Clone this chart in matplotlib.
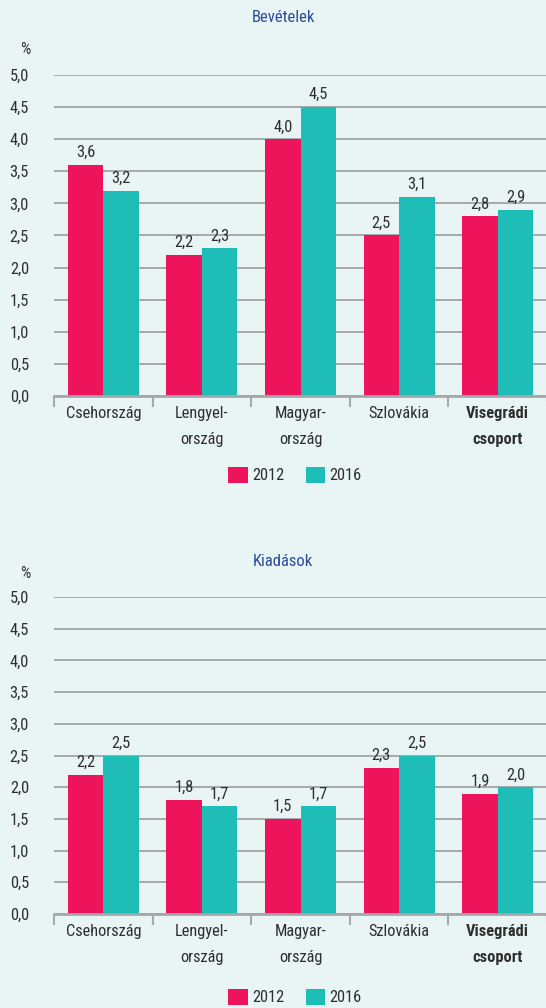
import matplotlib
matplotlib.use("Agg")
import matplotlib.pyplot as plt
from matplotlib import font_manager as fm
from matplotlib.patches import Patch
import numpy as np


def pick_condensed_font():
    """Return (family, stretch) for a narrow sans face, best candidates first."""
    entries = fm.fontManager.ttflist
    by_name = {}
    for f in entries:
        by_name.setdefault(f.name, []).append(f)
    for name in ("Roboto Condensed", "Open Sans Condensed", "Liberation Sans Narrow",
                 "Noto Sans Condensed", "DejaVu Sans Condensed", "Lato Condensed"):
        if name in by_name:
            return name, "normal"
    narrow = {"condensed", "semi-condensed", "extra-condensed"}
    for fam in ("Roboto", "Noto Sans", "Open Sans", "DejaVu Sans", "Liberation Sans", "Inter"):
        for f in by_name.get(fam, []):
            if str(f.stretch) in narrow:
                return fam, str(f.stretch)
    return "Roboto", "normal"


FAMILY, STRETCH = pick_condensed_font()
plt.rcParams['font.family'] = [FAMILY, 'DejaVu Sans']
plt.rcParams['font.stretch'] = STRETCH

categories = ["Csehország", "Lengyel-\nország", "Magyar-\nország", "Szlovákia", "Visegrádi\ncsoport"]
series_names = ["2012", "2016"]
bevetelek_2012 = [3.6, 2.2, 4.0, 2.5, 2.8]
bevetelek_2016 = [3.2, 2.3, 4.5, 3.1, 2.9]
kiadasok_2012 = [2.2, 1.8, 1.5, 2.3, 1.9]
kiadasok_2016 = [2.5, 1.7, 1.7, 2.5, 2.0]
yticks = [0.0, 0.5, 1.0, 1.5, 2.0, 2.5, 3.0, 3.5, 4.0, 4.5, 5.0]

BG = "#e9f5f5"
PINK = "#ed145b"
TEAL = "#1ebdb7"
GRID = "#a6a8aa"
TEXT = "#2e2e2e"
BLUE = "#2b4a9c"
FS = 11.8

W, H = 546, 1008
fig = plt.figure(figsize=(W / 100, H / 100), dpi=100, facecolor=BG)


def px_axes(x0, y_top, x1, y_bot):
    return fig.add_axes([x0 / W, 1 - y_bot / H, (x1 - x0) / W, (y_bot - y_top) / H])


def fmt(v):
    return f"{v:.1f}".replace(".", ",")


def panel(ax, title, v12, v16, title_y, pct_y, legend_y):
    ax.set_facecolor(BG)
    x = np.arange(len(categories))
    bw = 0.36
    b1 = ax.bar(x - bw / 2, v12, bw, color=PINK, zorder=3)
    b2 = ax.bar(x + bw / 2, v16, bw, color=TEAL, zorder=3)
    for bars, vals in ((b1, v12), (b2, v16)):
        for rect, v in zip(bars, vals):
            ax.annotate(fmt(v), (rect.get_x() + rect.get_width() / 2, v),
                        xytext=(0, 3.5), textcoords="offset points",
                        ha="center", va="bottom", fontsize=FS, color=TEXT)
    ax.set_xlim(-0.5, len(categories) - 0.5)
    ax.set_ylim(0, 5)
    ax.set_yticks(yticks)
    ax.set_yticklabels([fmt(t) for t in yticks], fontsize=FS, color=TEXT)
    ax.tick_params(axis="y", length=0, pad=18)
    ax.yaxis.grid(True, color=GRID, linewidth=1.4, zorder=0)
    ax.set_axisbelow(True)
    ax.set_xticks(x)
    ax.set_xticklabels(categories, fontsize=FS, color=TEXT, linespacing=1.95)
    for lbl in ax.get_xticklabels():
        if lbl.get_text().startswith("Visegrádi"):
            lbl.set_fontweight("bold")
    ax.tick_params(axis="x", which="major", length=0, pad=7)
    ax.set_xticks(np.arange(-0.5, len(categories)), minor=True)
    ax.tick_params(axis="x", which="minor", length=8, width=1.5, color=GRID, direction="out")
    for s in ("top", "right", "left"):
        ax.spines[s].set_visible(False)
    ax.spines["bottom"].set_color(GRID)
    ax.spines["bottom"].set_linewidth(2)
    ax.spines["bottom"].set_zorder(4)

    fig.text(283 / W, 1 - title_y / H, title, ha="center", va="center",
             fontsize=12, color=BLUE)
    fig.text(25 / W, 1 - pct_y / H, "%", ha="center", va="center",
             fontsize=FS, color=TEXT)
    handles = [Patch(facecolor=PINK, label=series_names[0]),
               Patch(facecolor=TEAL, label=series_names[1])]
    fig.legend(handles=handles, loc="center", bbox_to_anchor=(295 / W, 1 - legend_y / H),
               ncol=2, frameon=False, fontsize=FS, handlelength=1.2, handleheight=1.2,
               handletextpad=0.25, columnspacing=1.3, labelcolor=TEXT)


ax1 = px_axes(54, 75, 547, 396)
panel(ax1, "Bevételek", bevetelek_2012, bevetelek_2016, 18, 49, 475)

ax2 = px_axes(54, 597, 547, 914)
panel(ax2, "Kiadások", kiadasok_2012, kiadasok_2016, 562, 573, 997)

fig.savefig("out.png", dpi=100, facecolor=BG)
